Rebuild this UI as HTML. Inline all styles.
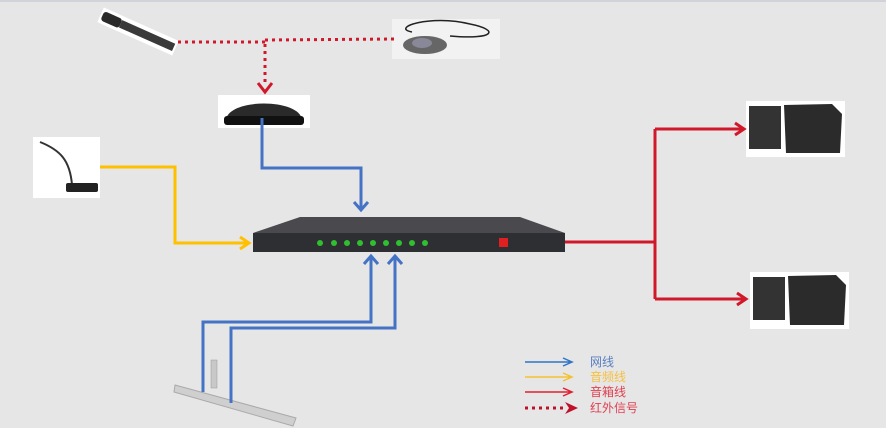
<!DOCTYPE html>
<html><head><meta charset="utf-8"><style>
html,body{margin:0;padding:0;background:#e6e6e6;width:886px;height:428px;overflow:hidden}
svg{display:block}
text{font-family:"Liberation Sans","Noto Sans CJK SC",sans-serif;font-size:12px}
</style></head><body>
<svg width="886" height="428" viewBox="0 0 886 428" xmlns="http://www.w3.org/2000/svg">
<rect width="886" height="428" fill="#e6e6e6"/>
<line x1="0" y1="1" x2="886" y2="1" stroke="#d0d4d8" stroke-width="2"/>
<!-- handheld mic -->
<g transform="translate(104,12) rotate(24)">
<rect x="-2" y="-4" width="82" height="16" fill="#fff"/>
<rect x="0" y="-1" width="20" height="10" rx="3" fill="#2a2a2a"/>
<rect x="20" y="0" width="58" height="8" fill="#3a3a3a"/>
</g>
<!-- bodypack -->
<rect x="392" y="19" width="108" height="40" fill="#f2f2f2"/>
<path d="M412,32 C390,28 430,14 470,24 C500,30 495,40 450,36" fill="none" stroke="#222" stroke-width="1.5"/>
<ellipse cx="425" cy="45" rx="22" ry="9" fill="#666"/>
<ellipse cx="422" cy="43" rx="10" ry="5" fill="#889"/>
<!-- dome -->
<rect x="218" y="95" width="92" height="33" fill="#fff"/>
<path d="M226,120 C228,98 300,98 302,120 Z" fill="#2a2a2a"/>
<rect x="224" y="116" width="80" height="9" rx="3" fill="#111"/>
<!-- gooseneck -->
<rect x="33" y="137" width="67" height="61" fill="#fff"/>
<path d="M40,142 C60,150 70,160 72,185" fill="none" stroke="#333" stroke-width="2"/>
<rect x="66" y="183" width="32" height="9" rx="2" fill="#222"/>
<!-- speakers -->
<rect x="746" y="101" width="99" height="56" fill="#fff"/>
<rect x="749" y="106" width="32" height="43" fill="#333"/>
<path d="M784,105 L832,104 L842,114 L840,153 L786,153 Z" fill="#2b2b2b"/>
<rect x="750" y="272" width="99" height="57" fill="#fff"/>
<rect x="753" y="277" width="32" height="43" fill="#333"/>
<path d="M788,276 L836,275 L846,285 L844,325 L790,325 Z" fill="#2b2b2b"/>
<!-- rail -->
<path d="M175,385 L296,418 L293,426 L174,392 Z" fill="#cfcfcf" stroke="#aaa"/>
<rect x="211" y="360" width="6" height="28" fill="#c8c8c8" stroke="#999" stroke-width="0.5"/>
<!-- device -->
<path d="M300,217 L520,217 L565,233 L253,233 Z" fill="#4a4a4e"/>
<rect x="253" y="233" width="312" height="19" fill="#2e2f33"/>
<g fill="#2fbf2f">
<circle cx="320" cy="243" r="3"/><circle cx="334" cy="243" r="3"/><circle cx="347" cy="243" r="3"/><circle cx="360" cy="243" r="3"/><circle cx="373" cy="243" r="3"/><circle cx="386" cy="243" r="3"/><circle cx="399" cy="243" r="3"/><circle cx="412" cy="243" r="3"/><circle cx="425" cy="243" r="3"/>
</g>
<rect x="499" y="238" width="9" height="9" fill="#e02020"/>
<!-- red dotted -->
<g stroke="#d0182a" stroke-width="3" stroke-dasharray="3,4" fill="none">
<path d="M178,42 L265,42"/><path d="M265,40 L395,39"/>
<path d="M265,44 L265,86"/>
</g>
<path d="M258,83 L265,92 L272,83" fill="none" stroke="#d0182a" stroke-width="3"/>
<!-- blue -->
<g stroke="#4472c4" stroke-width="3" fill="none">
<path d="M262,118 L262,168 L361,168 L361,210"/>
<path d="M354,202 L361,210 L368,202"/>
<path d="M203,392 L203,322 L371,322 L371,256"/>
<path d="M364,264 L371,256 L378,264"/>
<path d="M231,403 L231,328 L395,328 L395,256"/>
<path d="M388,264 L395,256 L402,264"/>
</g>
<!-- yellow -->
<g stroke="#ffc000" stroke-width="3" fill="none">
<path d="M100,167 L175,167 L175,243 L248,243"/>
<path d="M240,237 L249,243 L240,249"/>
</g>
<!-- red -->
<g stroke="#d0182a" stroke-width="3" fill="none">
<path d="M565,242 L655,242"/>
<path d="M655,129 L655,299"/>
<path d="M655,129 L743,129"/><path d="M735,123 L744,129 L735,135"/>
<path d="M655,299 L745,299"/><path d="M737,293 L746,299 L737,305"/>
</g>
<!-- legend -->
<g fill="none" stroke-width="1.5">
<path d="M525,362 L571,362 M563,358 L572,362 L563,366" stroke="#2e75c7"/>
<path d="M525,377 L571,377 M563,373 L572,377 L563,381" stroke="#f5c030"/>
<path d="M525,392 L571,392 M563,388 L572,392 L563,396" stroke="#e02030"/>
</g>
<path d="M525,408 L563,408" stroke="#c0102a" stroke-width="3" stroke-dasharray="3,4"/>
<path d="M565,402 L578,408 L565,414 L569,408 Z" fill="#c0102a"/>
<text x="590" y="366" fill="#5a7fc0">网线</text>
<text x="590" y="381" fill="#f5c040">音频线</text>
<text x="590" y="396" fill="#e04050">音箱线</text>
<text x="590" y="412" fill="#e04050">红外信号</text>
</svg>
</body></html>
